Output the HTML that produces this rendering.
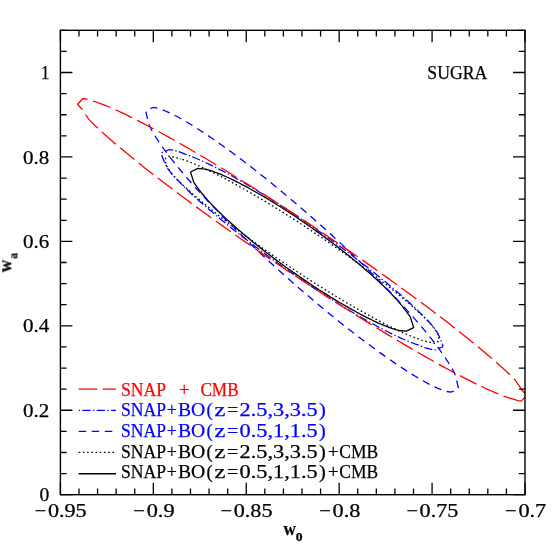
<!DOCTYPE html>
<html><head><meta charset="utf-8"><title>SUGRA contours</title>
<style>
html,body{margin:0;padding:0;background:#fff;}
body{width:554px;height:554px;overflow:hidden;}
svg{display:block;font-family:"Liberation Serif",serif;font-size:18.6px;}
</style></head><body>
<svg width="554" height="554" viewBox="0 0 554 554">
<rect width="554" height="554" fill="#fff"/>
<defs><clipPath id="cp"><rect x="60.4" y="30.3" width="464.6" height="464.4"/></clipPath></defs>
<g clip-path="url(#cp)">
<path d="M205.0 169.1 L197.9 168.4 L190.5 172.0 L193.8 182.4 L198.3 188.7 L199.4 190.2 L200.5 191.6 L201.7 193.2 L203.0 194.7 L204.4 196.3 L205.8 198.0 L207.2 199.7 L208.8 201.4 L210.4 203.1 L212.1 204.9 L213.8 206.7 L215.6 208.5 L217.5 210.4 L219.4 212.3 L221.4 214.2 L223.4 216.1 L225.5 218.1 L227.6 220.1 L229.8 222.1 L232.0 224.1 L234.3 226.1 L236.6 228.2 L239.0 230.2 L241.4 232.3 L243.9 234.4 L246.4 236.5 L248.9 238.6 L251.5 240.7 L254.1 242.9 L256.8 245.0 L259.4 247.1 L262.1 249.2 L264.9 251.4 L267.6 253.5 L270.4 255.6 L273.2 257.7 L276.0 259.9 L278.9 262.0 L281.7 264.1 L284.6 266.2 L287.5 268.2 L290.4 270.3 L293.3 272.4 L296.2 274.4 L299.1 276.4 L302.0 278.4 L304.9 280.4 L307.8 282.4 L310.7 284.3 L313.6 286.2 L316.5 288.1 L319.4 290.0 L322.3 291.8 L325.1 293.6 L328.0 295.4 L330.8 297.2 L333.6 298.9 L336.4 300.6 L339.1 302.2 L341.9 303.8 L344.6 305.4 L347.2 306.9 L349.9 308.4 L352.5 309.9 L355.1 311.3 L357.6 312.7 L360.1 314.0 L362.6 315.3 L365.0 316.6 L367.4 317.8 L369.7 318.9 L372.0 320.0 L374.2 321.1 L376.4 322.1 L378.5 323.1 L380.6 324.0 L382.6 324.9 L384.6 325.7 L386.5 326.4 L388.4 327.1 L390.2 327.8 L391.9 328.4 L393.6 329.0 L395.2 329.4 L396.8 329.9 L398.2 330.3 L399.2 330.5 L406.3 331.2 L413.7 327.6 L410.4 317.2 L405.9 310.9 L404.8 309.4 L403.7 308.0 L402.5 306.4 L401.2 304.9 L399.8 303.3 L398.4 301.6 L397.0 299.9 L395.4 298.2 L393.8 296.5 L392.1 294.7 L390.4 292.9 L388.6 291.1 L386.7 289.2 L384.8 287.3 L382.8 285.4 L380.8 283.5 L378.7 281.5 L376.6 279.5 L374.4 277.5 L372.2 275.5 L369.9 273.5 L367.6 271.4 L365.2 269.4 L362.8 267.3 L360.3 265.2 L357.8 263.1 L355.3 261.0 L352.7 258.9 L350.1 256.7 L347.4 254.6 L344.8 252.5 L342.1 250.4 L339.3 248.2 L336.6 246.1 L333.8 244.0 L331.0 241.9 L328.2 239.7 L325.3 237.6 L322.5 235.5 L319.6 233.4 L316.7 231.4 L313.8 229.3 L310.9 227.2 L308.0 225.2 L305.1 223.2 L302.2 221.2 L299.3 219.2 L296.4 217.2 L293.5 215.3 L290.6 213.4 L287.7 211.5 L284.8 209.6 L281.9 207.8 L279.1 206.0 L276.2 204.2 L273.4 202.4 L270.6 200.7 L267.8 199.0 L265.1 197.4 L262.3 195.8 L259.6 194.2 L257.0 192.7 L254.3 191.2 L251.7 189.7 L249.1 188.3 L246.6 186.9 L244.1 185.6 L241.6 184.3 L239.2 183.0 L236.8 181.8 L234.5 180.7 L232.2 179.6 L230.0 178.5 L227.8 177.5 L225.7 176.5 L223.6 175.6 L221.6 174.7 L219.6 173.9 L217.7 173.2 L215.8 172.5 L214.0 171.8 L212.3 171.2 L210.6 170.6 L209.0 170.2 L207.4 169.7 L206.0 169.3 Z" fill="none" stroke="#000000" stroke-width="1.30" stroke-linejoin="round"/>
<path d="M181.2 159.0 L173.0 157.0 L169.0 156.2 L165.4 158.5 L165.9 164.8 L169.5 170.5 L174.0 176.1 L175.4 177.6 L176.9 179.2 L178.5 180.8 L180.2 182.5 L182.0 184.2 L183.8 185.9 L185.8 187.7 L187.8 189.5 L189.9 191.4 L192.0 193.3 L194.2 195.3 L196.6 197.3 L198.9 199.3 L201.4 201.4 L203.9 203.5 L206.5 205.6 L209.1 207.8 L211.8 210.0 L214.6 212.2 L217.4 214.5 L220.3 216.7 L223.3 219.0 L226.3 221.4 L229.3 223.7 L232.4 226.0 L235.5 228.4 L238.7 230.8 L242.0 233.2 L245.2 235.6 L248.5 238.0 L251.9 240.5 L255.3 242.9 L258.7 245.3 L262.1 247.8 L265.6 250.2 L269.1 252.7 L272.6 255.1 L276.1 257.6 L279.7 260.0 L283.2 262.4 L286.8 264.8 L290.4 267.2 L294.0 269.6 L297.6 272.0 L301.2 274.4 L304.8 276.7 L308.4 279.1 L312.0 281.4 L315.6 283.7 L319.2 285.9 L322.8 288.2 L326.4 290.4 L329.9 292.6 L333.4 294.7 L336.9 296.9 L340.4 299.0 L343.9 301.0 L347.3 303.1 L350.7 305.0 L354.0 307.0 L357.4 308.9 L360.7 310.8 L363.9 312.6 L367.1 314.4 L370.3 316.1 L373.4 317.8 L376.5 319.5 L379.5 321.1 L382.4 322.6 L385.4 324.1 L388.2 325.6 L391.0 327.0 L393.7 328.3 L396.4 329.6 L399.0 330.8 L401.6 332.0 L404.0 333.2 L406.4 334.2 L408.8 335.2 L411.0 336.2 L413.2 337.1 L415.3 337.9 L417.4 338.7 L419.3 339.4 L421.2 340.0 L423.0 340.6 L431.2 342.6 L435.2 343.4 L438.8 341.1 L438.3 334.8 L434.7 329.1 L430.2 323.5 L428.8 322.0 L427.3 320.4 L425.7 318.8 L424.0 317.1 L422.2 315.4 L420.4 313.7 L418.4 311.9 L416.4 310.1 L414.3 308.2 L412.2 306.3 L410.0 304.3 L407.6 302.3 L405.3 300.3 L402.8 298.2 L400.3 296.1 L397.7 294.0 L395.1 291.8 L392.4 289.6 L389.6 287.4 L386.8 285.1 L383.9 282.9 L380.9 280.6 L377.9 278.2 L374.9 275.9 L371.8 273.6 L368.7 271.2 L365.5 268.8 L362.2 266.4 L359.0 264.0 L355.7 261.6 L352.3 259.1 L348.9 256.7 L345.5 254.3 L342.1 251.8 L338.6 249.4 L335.1 246.9 L331.6 244.5 L328.1 242.0 L324.5 239.6 L321.0 237.2 L317.4 234.8 L313.8 232.4 L310.2 230.0 L306.6 227.6 L303.0 225.2 L299.4 222.9 L295.8 220.5 L292.2 218.2 L288.6 215.9 L285.0 213.7 L281.4 211.4 L277.8 209.2 L274.3 207.0 L270.8 204.9 L267.3 202.7 L263.8 200.6 L260.3 198.6 L256.9 196.5 L253.5 194.6 L250.2 192.6 L246.8 190.7 L243.5 188.8 L240.3 187.0 L237.1 185.2 L233.9 183.5 L230.8 181.8 L227.7 180.1 L224.7 178.5 L221.8 177.0 L218.8 175.5 L216.0 174.0 L213.2 172.6 L210.5 171.3 L207.8 170.0 L205.2 168.8 L202.6 167.6 L200.2 166.4 L197.8 165.4 L195.4 164.4 L193.2 163.4 L191.0 162.5 L188.9 161.7 L186.8 160.9 L184.9 160.2 L183.0 159.6 Z" fill="none" stroke="#000000" stroke-width="1.30" stroke-linejoin="round" stroke-dasharray="1.6 2.6" stroke-dashoffset="0.88"/>
<path d="M163.0 110.1 L157.3 108.1 L153.4 107.4 L150.5 108.5 L146.6 110.4 L145.8 111.6 L147.4 118.4 L148.8 124.2 L151.7 130.3 L154.8 135.4 L156.1 137.6 L157.6 139.8 L159.1 142.2 L160.7 144.6 L162.5 147.0 L164.3 149.6 L166.2 152.2 L168.2 154.9 L170.3 157.6 L172.5 160.4 L174.8 163.3 L177.2 166.2 L179.6 169.2 L182.2 172.2 L184.8 175.3 L187.5 178.5 L190.3 181.7 L193.1 184.9 L196.1 188.2 L199.1 191.5 L202.1 194.8 L205.3 198.2 L208.5 201.7 L211.8 205.1 L215.1 208.6 L218.5 212.1 L221.9 215.7 L225.4 219.2 L229.0 222.8 L232.6 226.4 L236.3 230.1 L240.0 233.7 L243.7 237.3 L247.5 241.0 L251.3 244.7 L255.2 248.3 L259.1 252.0 L263.0 255.7 L266.9 259.3 L270.9 263.0 L274.9 266.6 L278.9 270.3 L282.9 273.9 L287.0 277.5 L291.0 281.1 L295.1 284.6 L299.1 288.2 L303.2 291.7 L307.3 295.2 L311.3 298.6 L315.4 302.0 L319.4 305.4 L323.4 308.8 L327.5 312.1 L331.4 315.4 L335.4 318.6 L339.4 321.8 L343.3 324.9 L347.2 328.0 L351.1 331.0 L354.9 334.0 L358.7 336.9 L362.5 339.8 L366.2 342.6 L369.9 345.3 L373.5 348.0 L377.1 350.6 L380.6 353.1 L384.1 355.6 L387.5 358.0 L390.8 360.3 L394.1 362.6 L397.4 364.8 L400.5 366.9 L403.6 368.9 L406.6 370.9 L409.6 372.8 L412.5 374.6 L415.3 376.3 L418.0 377.9 L420.7 379.5 L423.2 380.9 L425.7 382.3 L428.1 383.6 L430.4 384.7 L432.6 385.8 L434.8 386.8 L436.8 387.8 L438.7 388.6 L440.6 389.3 L441.2 389.5 L446.9 391.5 L450.8 392.2 L453.7 391.1 L457.6 389.2 L458.4 388.0 L456.8 381.2 L455.4 375.4 L452.5 369.3 L449.4 364.2 L448.1 362.0 L446.6 359.8 L445.1 357.4 L443.5 355.0 L441.7 352.6 L439.9 350.0 L438.0 347.4 L436.0 344.7 L433.9 342.0 L431.7 339.2 L429.4 336.3 L427.0 333.4 L424.6 330.4 L422.0 327.4 L419.4 324.3 L416.7 321.1 L413.9 317.9 L411.1 314.7 L408.1 311.4 L405.1 308.1 L402.1 304.8 L398.9 301.4 L395.7 297.9 L392.4 294.5 L389.1 291.0 L385.7 287.5 L382.3 283.9 L378.8 280.4 L375.2 276.8 L371.6 273.2 L367.9 269.5 L364.2 265.9 L360.5 262.3 L356.7 258.6 L352.9 254.9 L349.0 251.3 L345.1 247.6 L341.2 243.9 L337.3 240.3 L333.3 236.6 L329.3 233.0 L325.3 229.3 L321.3 225.7 L317.2 222.1 L313.2 218.5 L309.1 215.0 L305.1 211.4 L301.0 207.9 L296.9 204.4 L292.9 201.0 L288.8 197.6 L284.8 194.2 L280.8 190.8 L276.7 187.5 L272.8 184.2 L268.8 181.0 L264.8 177.8 L260.9 174.7 L257.0 171.6 L253.1 168.6 L249.3 165.6 L245.5 162.7 L241.7 159.8 L238.0 157.0 L234.3 154.3 L230.7 151.6 L227.1 149.0 L223.6 146.5 L220.1 144.0 L216.7 141.6 L213.4 139.3 L210.1 137.0 L206.8 134.8 L203.7 132.7 L200.6 130.7 L197.6 128.7 L194.6 126.8 L191.7 125.0 L188.9 123.3 L186.2 121.7 L183.5 120.1 L181.0 118.7 L178.5 117.3 L176.1 116.0 L173.8 114.9 L171.6 113.8 L169.4 112.8 L167.4 111.8 L165.5 111.0 L163.6 110.3 Z" fill="none" stroke="#0000ff" stroke-width="1.30" stroke-linejoin="round" stroke-dasharray="7.494 5.549" stroke-dashoffset="7.20"/>
<path d="M185.7 154.4 L178.9 151.7 L171.7 149.8 L168.5 149.8 L165.8 151.3 L161.8 152.6 L161.3 154.2 L164.0 161.2 L165.8 164.8 L167.6 168.4 L171.7 173.8 L173.2 175.5 L174.9 177.3 L176.6 179.1 L178.4 181.0 L180.3 182.9 L182.2 184.9 L184.3 186.9 L186.4 189.0 L188.6 191.1 L190.8 193.2 L193.2 195.4 L195.6 197.6 L198.1 199.9 L200.7 202.2 L203.3 204.5 L206.0 206.8 L208.8 209.2 L211.6 211.6 L214.5 214.1 L217.4 216.5 L220.4 219.0 L223.5 221.5 L226.6 224.1 L229.7 226.6 L232.9 229.2 L236.2 231.8 L239.5 234.4 L242.8 237.0 L246.2 239.6 L249.6 242.2 L253.0 244.8 L256.5 247.5 L260.0 250.1 L263.6 252.7 L267.2 255.4 L270.7 258.0 L274.4 260.6 L278.0 263.2 L281.6 265.8 L285.3 268.4 L289.0 271.0 L292.6 273.6 L296.3 276.1 L300.0 278.7 L303.7 281.2 L307.4 283.7 L311.1 286.1 L314.8 288.6 L318.4 291.0 L322.1 293.3 L325.7 295.7 L329.4 298.0 L333.0 300.3 L336.6 302.6 L340.1 304.8 L343.7 306.9 L347.2 309.1 L350.7 311.2 L354.1 313.2 L357.5 315.2 L360.9 317.2 L364.2 319.1 L367.5 320.9 L370.8 322.8 L374.0 324.5 L377.1 326.2 L380.2 327.9 L383.3 329.5 L386.2 331.0 L389.2 332.5 L392.0 333.9 L394.9 335.3 L397.6 336.6 L400.3 337.8 L402.9 339.0 L405.5 340.1 L407.9 341.1 L410.3 342.1 L412.7 343.0 L414.9 343.9 L417.1 344.7 L418.5 345.2 L425.3 347.9 L432.5 349.8 L435.7 349.8 L438.4 348.3 L442.4 347.0 L442.9 345.4 L440.2 338.4 L438.4 334.8 L436.6 331.2 L432.5 325.8 L431.0 324.1 L429.3 322.3 L427.6 320.5 L425.8 318.6 L423.9 316.7 L422.0 314.7 L419.9 312.7 L417.8 310.6 L415.6 308.5 L413.4 306.4 L411.0 304.2 L408.6 302.0 L406.1 299.7 L403.5 297.4 L400.9 295.1 L398.2 292.8 L395.4 290.4 L392.6 288.0 L389.7 285.5 L386.8 283.1 L383.8 280.6 L380.7 278.1 L377.6 275.5 L374.5 273.0 L371.3 270.4 L368.0 267.8 L364.7 265.2 L361.4 262.6 L358.0 260.0 L354.6 257.4 L351.2 254.8 L347.7 252.1 L344.2 249.5 L340.6 246.9 L337.0 244.2 L333.5 241.6 L329.8 239.0 L326.2 236.4 L322.6 233.8 L318.9 231.2 L315.2 228.6 L311.6 226.0 L307.9 223.5 L304.2 220.9 L300.5 218.4 L296.8 215.9 L293.1 213.5 L289.4 211.0 L285.8 208.6 L282.1 206.3 L278.5 203.9 L274.8 201.6 L271.2 199.3 L267.6 197.0 L264.1 194.8 L260.5 192.7 L257.0 190.5 L253.5 188.4 L250.1 186.4 L246.7 184.4 L243.3 182.4 L240.0 180.5 L236.7 178.7 L233.4 176.8 L230.2 175.1 L227.1 173.4 L224.0 171.7 L220.9 170.1 L218.0 168.6 L215.0 167.1 L212.2 165.7 L209.3 164.3 L206.6 163.0 L203.9 161.8 L201.3 160.6 L198.7 159.5 L196.3 158.5 L193.9 157.5 L191.5 156.6 L189.3 155.7 L187.1 154.9 Z" fill="none" stroke="#0000ff" stroke-width="1.30" stroke-linejoin="round" stroke-dasharray="8.2 2.4 1.347 2.4" stroke-dashoffset="0.89"/>
<path d="M86.2 99.0 L82.9 98.5 L77.6 104.3 L82.3 109.6 L85.5 114.5 L89.1 119.6 L91.1 121.6 L93.2 123.7 L95.4 125.9 L97.8 128.1 L100.3 130.5 L103.0 132.9 L105.8 135.4 L108.7 138.0 L111.8 140.7 L115.0 143.4 L118.3 146.2 L121.7 149.1 L125.3 152.1 L129.0 155.1 L132.8 158.2 L136.7 161.4 L140.7 164.6 L144.8 167.9 L149.1 171.2 L153.4 174.6 L157.8 178.0 L162.4 181.5 L167.0 185.1 L171.7 188.6 L176.5 192.3 L181.4 195.9 L186.4 199.6 L191.5 203.4 L196.6 207.1 L201.8 210.9 L207.1 214.8 L212.4 218.6 L217.8 222.5 L223.3 226.4 L228.8 230.3 L234.3 234.2 L239.9 238.2 L245.6 242.1 L251.3 246.0 L257.0 250.0 L262.7 253.9 L268.5 257.9 L274.3 261.8 L280.1 265.8 L286.0 269.7 L291.8 273.6 L297.7 277.5 L303.5 281.3 L309.4 285.2 L315.2 289.0 L321.1 292.8 L326.9 296.6 L332.7 300.3 L338.5 304.0 L344.3 307.7 L350.0 311.3 L355.7 314.9 L361.4 318.4 L367.0 321.9 L372.6 325.4 L378.1 328.8 L383.6 332.1 L389.0 335.4 L394.4 338.6 L399.7 341.8 L404.9 344.9 L410.1 347.9 L415.1 350.8 L420.2 353.7 L425.1 356.6 L429.9 359.3 L434.7 362.0 L439.3 364.6 L443.9 367.1 L448.4 369.5 L452.8 371.9 L457.0 374.1 L461.2 376.3 L465.2 378.4 L469.2 380.4 L473.0 382.3 L476.7 384.2 L480.3 385.9 L483.7 387.5 L487.1 389.1 L490.3 390.5 L493.4 391.9 L496.3 393.1 L499.1 394.3 L501.8 395.3 L504.4 396.3 L506.8 397.1 L509.0 397.9 L511.2 398.5 L512.5 398.9 L518.0 400.6 L521.3 401.1" fill="none" stroke="#ff0000" stroke-width="1.30" stroke-linejoin="round" stroke-dasharray="18.5 5.6"/>
<path d="M521.3 401.1 L526.6 395.3" fill="none" stroke="#ff0000" stroke-width="1.30" stroke-linejoin="round"/>
<path d="M526.6 395.3 L521.9 390.0 L518.7 385.1 L515.1 380.0 L513.1 378.0 L511.0 375.9 L508.8 373.7 L506.4 371.5 L503.9 369.1 L501.2 366.7 L498.4 364.2 L495.5 361.6 L492.4 358.9 L489.2 356.2 L485.9 353.4 L482.5 350.5 L478.9 347.5 L475.2 344.5 L471.4 341.4 L467.5 338.2 L463.5 335.0 L459.4 331.7 L455.1 328.4 L450.8 325.0 L446.4 321.6 L441.8 318.1 L437.2 314.5 L432.5 311.0 L427.7 307.3 L422.8 303.7 L417.8 300.0 L412.7 296.2 L407.6 292.5 L402.4 288.7 L397.1 284.8 L391.8 281.0 L386.4 277.1 L380.9 273.2 L375.4 269.3 L369.9 265.4 L364.3 261.4 L358.6 257.5 L352.9 253.6 L347.2 249.6 L341.5 245.7 L335.7 241.7 L329.9 237.8 L324.1 233.8 L318.2 229.9 L312.4 226.0 L306.5 222.1 L300.7 218.3 L294.8 214.4 L289.0 210.6 L283.1 206.8 L277.3 203.0 L271.5 199.3 L265.7 195.6 L259.9 191.9 L254.2 188.3 L248.5 184.7 L242.8 181.2 L237.2 177.7 L231.6 174.2 L226.1 170.8 L220.6 167.5 L215.2 164.2 L209.8 161.0 L204.5 157.8 L199.3 154.7 L194.1 151.7 L189.1 148.8 L184.0 145.9 L179.1 143.0 L174.3 140.3 L169.5 137.6 L164.9 135.0 L160.3 132.5 L155.8 130.1 L151.4 127.7 L147.2 125.5 L143.0 123.3 L139.0 121.2 L135.0 119.2 L131.2 117.3 L127.5 115.4 L123.9 113.7 L120.5 112.1 L117.1 110.5 L113.9 109.1 L110.8 107.7 L107.9 106.5 L105.1 105.3 L102.4 104.3 L99.8 103.3 L97.4 102.5 L95.2 101.7 L93.0 101.1 L91.7 100.7 L86.2 99.0" fill="none" stroke="#ff0000" stroke-width="1.30" stroke-linejoin="round" stroke-dasharray="18.5 5.6" stroke-dashoffset="21.69"/>
</g>
<rect x="60.40" y="30.30" width="464.60" height="464.40" fill="none" stroke="#000" stroke-width="1.4"/>
<path d="M60.40 30.30 v12.0 M60.40 494.70 v-12.0 M78.98 30.30 v6.2 M78.98 494.70 v-6.2 M97.57 30.30 v6.2 M97.57 494.70 v-6.2 M116.15 30.30 v6.2 M116.15 494.70 v-6.2 M134.74 30.30 v6.2 M134.74 494.70 v-6.2 M153.32 30.30 v12.0 M153.32 494.70 v-12.0 M171.90 30.30 v6.2 M171.90 494.70 v-6.2 M190.49 30.30 v6.2 M190.49 494.70 v-6.2 M209.07 30.30 v6.2 M209.07 494.70 v-6.2 M227.66 30.30 v6.2 M227.66 494.70 v-6.2 M246.24 30.30 v12.0 M246.24 494.70 v-12.0 M264.82 30.30 v6.2 M264.82 494.70 v-6.2 M283.41 30.30 v6.2 M283.41 494.70 v-6.2 M301.99 30.30 v6.2 M301.99 494.70 v-6.2 M320.58 30.30 v6.2 M320.58 494.70 v-6.2 M339.16 30.30 v12.0 M339.16 494.70 v-12.0 M357.74 30.30 v6.2 M357.74 494.70 v-6.2 M376.33 30.30 v6.2 M376.33 494.70 v-6.2 M394.91 30.30 v6.2 M394.91 494.70 v-6.2 M413.50 30.30 v6.2 M413.50 494.70 v-6.2 M432.08 30.30 v12.0 M432.08 494.70 v-12.0 M450.66 30.30 v6.2 M450.66 494.70 v-6.2 M469.25 30.30 v6.2 M469.25 494.70 v-6.2 M487.83 30.30 v6.2 M487.83 494.70 v-6.2 M506.42 30.30 v6.2 M506.42 494.70 v-6.2 M525.00 30.30 v12.0 M525.00 494.70 v-12.0 M60.40 494.70 h12.0 M525.00 494.70 h-12.0 M60.40 473.59 h6.2 M525.00 473.59 h-6.2 M60.40 452.48 h6.2 M525.00 452.48 h-6.2 M60.40 431.37 h6.2 M525.00 431.37 h-6.2 M60.40 410.26 h12.0 M525.00 410.26 h-12.0 M60.40 389.15 h6.2 M525.00 389.15 h-6.2 M60.40 368.05 h6.2 M525.00 368.05 h-6.2 M60.40 346.94 h6.2 M525.00 346.94 h-6.2 M60.40 325.83 h12.0 M525.00 325.83 h-12.0 M60.40 304.72 h6.2 M525.00 304.72 h-6.2 M60.40 283.61 h6.2 M525.00 283.61 h-6.2 M60.40 262.50 h6.2 M525.00 262.50 h-6.2 M60.40 241.39 h12.0 M525.00 241.39 h-12.0 M60.40 220.28 h6.2 M525.00 220.28 h-6.2 M60.40 199.17 h6.2 M525.00 199.17 h-6.2 M60.40 178.06 h6.2 M525.00 178.06 h-6.2 M60.40 156.95 h12.0 M525.00 156.95 h-12.0 M60.40 135.85 h6.2 M525.00 135.85 h-6.2 M60.40 114.74 h6.2 M525.00 114.74 h-6.2 M60.40 93.63 h6.2 M525.00 93.63 h-6.2 M60.40 72.52 h12.0 M525.00 72.52 h-12.0 M60.40 51.41 h6.2 M525.00 51.41 h-6.2 M60.40 30.30 h6.2 M525.00 30.30 h-6.2" fill="none" stroke="#000" stroke-width="1.3"/>
<path d="M78.7 389.15 H116" fill="none" stroke="#ff0000" stroke-width="1.30" stroke-dasharray="18.5 5.6" stroke-dashoffset="0"/>
<path d="M78.7 410.30 H116" fill="none" stroke="#0000ff" stroke-width="1.30" stroke-dasharray="8.2 2.4 1.347 2.4" stroke-dashoffset="10.7"/>
<path d="M78.7 431.40 H116" fill="none" stroke="#0000ff" stroke-width="1.30" stroke-dasharray="7.5 5.553" stroke-dashoffset="0"/>
<path d="M78.7 452.45 H116" fill="none" stroke="#000000" stroke-width="1.30" stroke-dasharray="1.6 2.6" stroke-dashoffset="0"/>
<path d="M78.7 473.75 H116" fill="none" stroke="#000000" stroke-width="1.30"/>
<g opacity="0.999" stroke="#000" stroke-width="0.25">
<text x="34.8" y="517.3" textLength="11.6" lengthAdjust="spacingAndGlyphs">−</text>
<text x="47.9" y="517.3" textLength="38.8" lengthAdjust="spacingAndGlyphs">0.95</text>
<text x="133.3" y="517.3" textLength="11.6" lengthAdjust="spacingAndGlyphs">−</text>
<text x="146.7" y="517.3" textLength="27.9" lengthAdjust="spacingAndGlyphs">0.9</text>
<text x="220.6" y="517.3" textLength="11.6" lengthAdjust="spacingAndGlyphs">−</text>
<text x="233.7" y="517.3" textLength="38.8" lengthAdjust="spacingAndGlyphs">0.85</text>
<text x="319.2" y="517.3" textLength="11.6" lengthAdjust="spacingAndGlyphs">−</text>
<text x="332.6" y="517.3" textLength="27.9" lengthAdjust="spacingAndGlyphs">0.8</text>
<text x="406.5" y="517.3" textLength="11.6" lengthAdjust="spacingAndGlyphs">−</text>
<text x="419.6" y="517.3" textLength="38.8" lengthAdjust="spacingAndGlyphs">0.75</text>
<text x="505.0" y="517.3" textLength="11.6" lengthAdjust="spacingAndGlyphs">−</text>
<text x="518.4" y="517.3" textLength="27.9" lengthAdjust="spacingAndGlyphs">0.7</text>
<text x="39.5" y="501.2" textLength="9.8" lengthAdjust="spacingAndGlyphs">0</text>
<text x="23.0" y="416.8" textLength="26.3" lengthAdjust="spacingAndGlyphs">0.2</text>
<text x="23.0" y="332.3" textLength="26.3" lengthAdjust="spacingAndGlyphs">0.4</text>
<text x="23.0" y="247.9" textLength="26.3" lengthAdjust="spacingAndGlyphs">0.6</text>
<text x="23.0" y="163.5" textLength="26.3" lengthAdjust="spacingAndGlyphs">0.8</text>
<text x="40.9" y="79.0" textLength="8.4" lengthAdjust="spacingAndGlyphs">1</text>
<text x="427.3" y="79.0" textLength="60.0" lengthAdjust="spacingAndGlyphs">SUGRA</text>
<g fill="#ff0000" stroke="#ff0000"><text x="121.0" y="395.5" textLength="45.0" lengthAdjust="spacingAndGlyphs">SNAP</text><text x="178.9" y="395.5" textLength="10.6" lengthAdjust="spacingAndGlyphs">+</text><text x="200.4" y="395.5" textLength="38.2" lengthAdjust="spacingAndGlyphs">CMB</text></g>
<g fill="#0000ff" stroke="#0000ff"><text x="121.0" y="416.1" textLength="45.0" lengthAdjust="spacingAndGlyphs">SNAP</text><text x="166.8" y="416.1" textLength="10.1" lengthAdjust="spacingAndGlyphs">+</text><text x="177.9" y="416.1" textLength="27.3" lengthAdjust="spacingAndGlyphs">BO</text><text x="206.6" y="416.1" textLength="6.2" lengthAdjust="spacingAndGlyphs">(</text><text x="214.4" y="416.1" textLength="10.9" lengthAdjust="spacingAndGlyphs">z</text><text x="226.9" y="416.1" textLength="11.3" lengthAdjust="spacingAndGlyphs">=</text><text x="239.6" y="416.1" textLength="78.0" lengthAdjust="spacingAndGlyphs">2.5,3,3.5</text><text x="319.0" y="416.1" textLength="6.8" lengthAdjust="spacingAndGlyphs">)</text></g>
<g fill="#0000ff" stroke="#0000ff"><text x="121.0" y="436.9" textLength="45.0" lengthAdjust="spacingAndGlyphs">SNAP</text><text x="166.8" y="436.9" textLength="10.1" lengthAdjust="spacingAndGlyphs">+</text><text x="177.9" y="436.9" textLength="27.3" lengthAdjust="spacingAndGlyphs">BO</text><text x="206.6" y="436.9" textLength="6.2" lengthAdjust="spacingAndGlyphs">(</text><text x="214.4" y="436.9" textLength="10.9" lengthAdjust="spacingAndGlyphs">z</text><text x="226.9" y="436.9" textLength="11.3" lengthAdjust="spacingAndGlyphs">=</text><text x="239.6" y="436.9" textLength="78.0" lengthAdjust="spacingAndGlyphs">0.5,1,1.5</text><text x="319.0" y="436.9" textLength="6.8" lengthAdjust="spacingAndGlyphs">)</text></g>
<g fill="#000" stroke="#000"><text x="121.0" y="457.7" textLength="45.0" lengthAdjust="spacingAndGlyphs">SNAP</text><text x="166.8" y="457.7" textLength="10.1" lengthAdjust="spacingAndGlyphs">+</text><text x="177.9" y="457.7" textLength="27.3" lengthAdjust="spacingAndGlyphs">BO</text><text x="206.6" y="457.7" textLength="6.2" lengthAdjust="spacingAndGlyphs">(</text><text x="214.4" y="457.7" textLength="10.9" lengthAdjust="spacingAndGlyphs">z</text><text x="226.9" y="457.7" textLength="11.3" lengthAdjust="spacingAndGlyphs">=</text><text x="239.6" y="457.7" textLength="78.0" lengthAdjust="spacingAndGlyphs">2.5,3,3.5</text><text x="319.0" y="457.7" textLength="6.8" lengthAdjust="spacingAndGlyphs">)</text><text x="327.9" y="457.7" textLength="10.6" lengthAdjust="spacingAndGlyphs">+</text><text x="339.3" y="457.7" textLength="38.9" lengthAdjust="spacingAndGlyphs">CMB</text></g>
<g fill="#000" stroke="#000"><text x="121.0" y="478.4" textLength="45.0" lengthAdjust="spacingAndGlyphs">SNAP</text><text x="166.8" y="478.4" textLength="10.1" lengthAdjust="spacingAndGlyphs">+</text><text x="177.9" y="478.4" textLength="27.3" lengthAdjust="spacingAndGlyphs">BO</text><text x="206.6" y="478.4" textLength="6.2" lengthAdjust="spacingAndGlyphs">(</text><text x="214.4" y="478.4" textLength="10.9" lengthAdjust="spacingAndGlyphs">z</text><text x="226.9" y="478.4" textLength="11.3" lengthAdjust="spacingAndGlyphs">=</text><text x="239.6" y="478.4" textLength="78.0" lengthAdjust="spacingAndGlyphs">0.5,1,1.5</text><text x="319.0" y="478.4" textLength="6.8" lengthAdjust="spacingAndGlyphs">)</text><text x="327.9" y="478.4" textLength="10.6" lengthAdjust="spacingAndGlyphs">+</text><text x="339.3" y="478.4" textLength="38.9" lengthAdjust="spacingAndGlyphs">CMB</text></g>
<g font-weight="bold"><text x="283.4" y="534.8" font-size="18.5" textLength="12.4" lengthAdjust="spacingAndGlyphs">w</text><text x="295.8" y="540.6" font-size="11.5" textLength="6.8" lengthAdjust="spacingAndGlyphs">0</text></g>
<g font-weight="bold" transform="translate(11.3 272.3) rotate(-90)"><text x="0" y="0" font-size="18.5" textLength="12.4" lengthAdjust="spacingAndGlyphs">w</text><text x="13.6" y="5.7" font-size="12" textLength="5.8" lengthAdjust="spacingAndGlyphs">a</text></g>
</g>
</svg>
</body></html>
